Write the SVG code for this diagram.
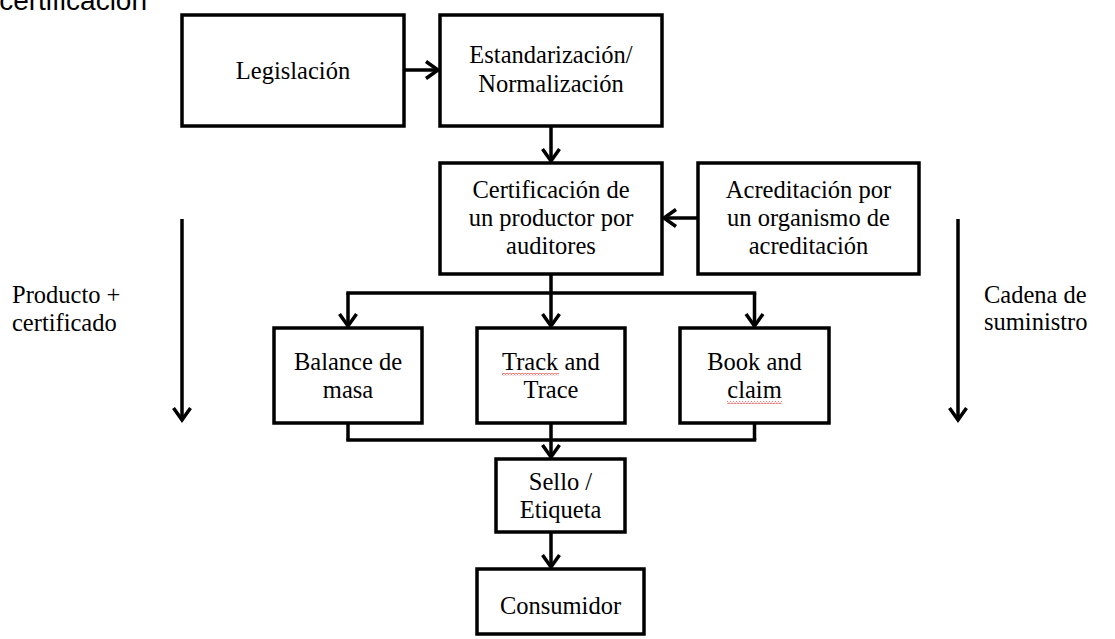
<svg xmlns="http://www.w3.org/2000/svg" width="1115" height="639" viewBox="0 0 1115 639">
  <style>
    .box { fill: #fff; stroke: #000; stroke-width: 3.5; }
    .lbl { font-family: "Liberation Serif", "Times New Roman", serif; font-size: 24.5px; fill: #000; text-anchor: middle; }
    .side { font-family: "Liberation Serif", "Times New Roman", serif; font-size: 24.5px; fill: #000; }
    .head { font-family: "Liberation Sans", Arial, sans-serif; font-size: 28px; fill: #000; text-anchor: end; }
    .wire { fill: none; stroke: #000; stroke-width: 3.5; }
    .spell { fill: url(#squiggle); }
  </style>
  <defs>
    <marker id="ah" markerUnits="userSpaceOnUse" viewBox="-16 -12 20 24" refX="0" refY="0" markerWidth="20" markerHeight="24" orient="auto" overflow="visible">
      <path d="M-12,-8.5 L0,0 L-12,8.5" fill="none" stroke="#000" stroke-width="3.5"/>
    </marker>
    <pattern id="squiggle" patternUnits="userSpaceOnUse" width="3" height="3">
      <path d="M0,0.5 L1.5,2.5 L3,0.5" fill="none" stroke="#e03030" stroke-width="0.8"/>
    </pattern>
  </defs>

  <rect width="1115" height="639" fill="#fff"/>

  <!-- heading, clipped by the top edge -->
  <text class="head" x="147" y="10">certificación</text>

  <g id="connectors">
    <line class="wire" x1="404" y1="70" x2="438" y2="70" marker-end="url(#ah)"/>
    <line class="wire" x1="551" y1="126" x2="551" y2="161" marker-end="url(#ah)"/>
    <line class="wire" x1="698" y1="218" x2="664" y2="218" marker-end="url(#ah)"/>
    <!-- fan out to the three chain models -->
    <line class="wire" x1="551" y1="274" x2="551" y2="293"/>
    <line class="wire" x1="348" y1="293" x2="754.5" y2="293" stroke-linecap="square"/>
    <line class="wire" x1="348" y1="293" x2="348" y2="326" marker-end="url(#ah)"/>
    <line class="wire" x1="551" y1="293" x2="551" y2="326" marker-end="url(#ah)"/>
    <line class="wire" x1="754.5" y1="293" x2="754.5" y2="326" marker-end="url(#ah)"/>
    <!-- merge into the label -->
    <line class="wire" x1="348" y1="423" x2="348" y2="440"/>
    <line class="wire" x1="551" y1="423" x2="551" y2="440"/>
    <line class="wire" x1="754.5" y1="423" x2="754.5" y2="440"/>
    <line class="wire" x1="348" y1="440" x2="754.5" y2="440" stroke-linecap="square"/>
    <line class="wire" x1="551" y1="440" x2="551" y2="457" marker-end="url(#ah)"/>
    <line class="wire" x1="551" y1="532" x2="551" y2="567" marker-end="url(#ah)"/>
    <!-- side flow arrows -->
    <line class="wire" x1="182" y1="219" x2="182" y2="420" marker-end="url(#ah)"/>
    <line class="wire" x1="958" y1="219" x2="958" y2="420" marker-end="url(#ah)"/>
  </g>

  <g id="legislacion">
    <rect class="box" x="182" y="15" width="222" height="111"/>
    <text class="lbl" x="293" y="79">Legislación</text>
  </g>

  <g id="estandarizacion">
    <rect class="box" x="440" y="15" width="222" height="111"/>
    <text class="lbl" x="551" y="63">Estandarización/</text>
    <text class="lbl" x="551" y="92">Normalización</text>
  </g>

  <g id="certificacion">
    <rect class="box" x="440" y="163" width="222" height="111"/>
    <text class="lbl" x="551" y="198">Certificación de</text>
    <text class="lbl" x="551" y="226">un productor por</text>
    <text class="lbl" x="551" y="254">auditores</text>
  </g>

  <g id="acreditacion">
    <rect class="box" x="698" y="163" width="221" height="111"/>
    <text class="lbl" x="808.5" y="198">Acreditación por</text>
    <text class="lbl" x="808.5" y="226">un organismo de</text>
    <text class="lbl" x="808.5" y="254">acreditación</text>
  </g>

  <g id="balance">
    <rect class="box" x="274" y="328" width="148" height="95"/>
    <text class="lbl" x="348" y="370">Balance de</text>
    <text class="lbl" x="348" y="398">masa</text>
  </g>

  <g id="track">
    <rect class="box" x="477" y="328" width="148" height="95"/>
    <text class="lbl" x="551" y="370">Track and</text>
    <text class="lbl" x="551" y="398">Trace</text>
    <rect class="spell" x="502" y="373" width="57" height="3"/>
  </g>

  <g id="book">
    <rect class="box" x="680" y="328" width="149" height="95"/>
    <text class="lbl" x="754.5" y="370">Book and</text>
    <text class="lbl" x="754.5" y="398">claim</text>
    <rect class="spell" x="727" y="401" width="55" height="3"/>
  </g>

  <g id="sello">
    <rect class="box" x="496" y="459" width="129" height="73"/>
    <text class="lbl" x="560.5" y="490">Sello /</text>
    <text class="lbl" x="560.5" y="518">Etiqueta</text>
  </g>

  <g id="consumidor">
    <rect class="box" x="477" y="569" width="167" height="65"/>
    <text class="lbl" x="560.5" y="614">Consumidor</text>
  </g>

  <g id="side-labels">
    <text class="side" x="12" y="303">Producto +</text>
    <text class="side" x="12" y="331">certificado</text>
    <text class="side" x="984" y="303">Cadena de</text>
    <text class="side" x="984" y="330">suministro</text>
  </g>
</svg>
